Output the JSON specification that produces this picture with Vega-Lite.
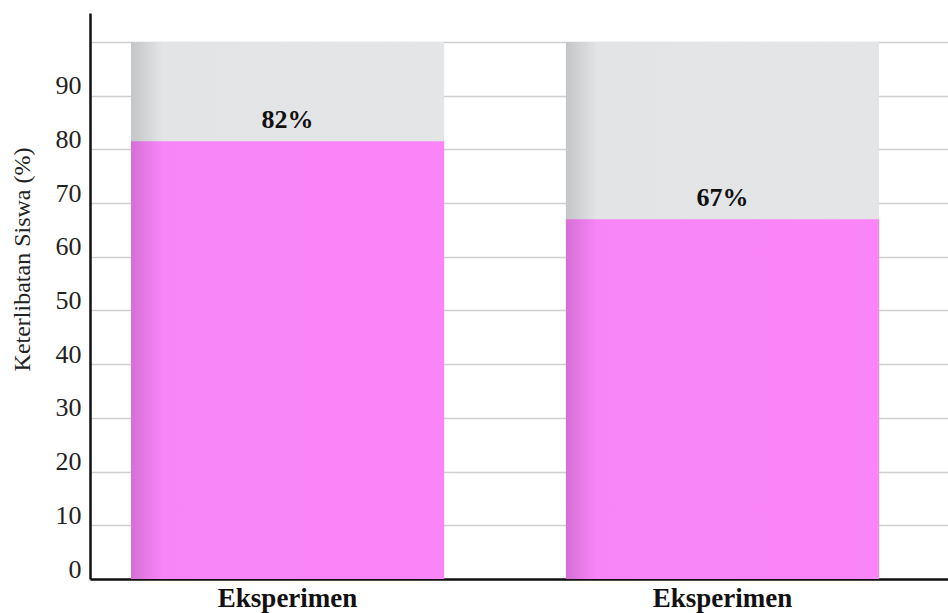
{
  "$schema": "https://vega.github.io/schema/vega-lite/v6.json",
  "autosize": {"type": "none"},
  "padding": {"left": 90, "top": 13, "right": 0, "bottom": 34},
  "width": 858,
  "height": 566,
  "background": "white",
  "config": {"view": {"stroke": null}},
  "data": {
    "values": [
      {"kelompok": "Eksperimen A", "nilai": 81.5, "maks": 100, "teks": "82%"},
      {"kelompok": "Eksperimen B", "nilai": 67, "maks": 100, "teks": "67%"}
    ]
  },
  "encoding": {
    "x": {
      "field": "kelompok",
      "type": "nominal",
      "sort": null,
      "scale": {"paddingInner": 0.28, "paddingOuter": 0.1264, "align": 0.373},
      "axis": {
        "title": null,
        "labelExpr": "'Eksperimen'",
        "labelAngle": 0,
        "labelFont": "Liberation Serif",
        "labelFontSize": 27,
        "labelFontWeight": "bold",
        "labelColor": "#111",
        "labelPadding": 6,
        "ticks": false,
        "domainColor": "#111",
        "domainWidth": 2.5,
        "grid": false
      }
    }
  },
  "layer": [
    {
      "mark": {
        "type": "bar",
        "color": {
          "gradient": "linear",
          "x1": 0, "y1": 0, "x2": 1, "y2": 0,
          "stops": [
            {"offset": 0, "color": "#c4c5c7"},
            {"offset": 0.1, "color": "#e3e4e6"},
            {"offset": 1, "color": "#e4e5e7"}
          ]
        }
      },
      "encoding": {
        "y": {
          "field": "maks",
          "type": "quantitative",
          "scale": {"domain": [0, 105.4], "nice": false, "zero": true},
          "axis": {
            "title": "Keterlibatan Siswa (%)",
            "titleFont": "Liberation Serif",
            "titleFontSize": 24,
            "titleFontWeight": "normal",
            "titleColor": "#222",
            "titleX": -56,
            "titleY": 246,
            "values": [0, 10, 20, 30, 40, 50, 60, 70, 80, 90, 100],
            "labelExpr": "datum.value >= 100 ? '' : datum.label",
            "labelFont": "Liberation Serif",
            "labelFontSize": 26,
            "labelColor": "#222",
            "labelPadding": 9,
            "labelBaseline": "alphabetic",
            "labelOffset": -2,
            "ticks": false,
            "domainColor": "#111",
            "domainWidth": 2.5,
            "grid": true,
            "gridColor": "#cfcfcf",
            "gridWidth": 1.5
          }
        }
      }
    },
    {
      "mark": {
        "type": "bar",
        "color": {
          "gradient": "linear",
          "x1": 0, "y1": 0, "x2": 1, "y2": 0,
          "stops": [
            {"offset": 0, "color": "#d56fd5"},
            {"offset": 0.1, "color": "#f885f8"},
            {"offset": 1, "color": "#f985f9"}
          ]
        }
      },
      "encoding": {
        "y": {"field": "nilai", "type": "quantitative"}
      }
    },
    {
      "mark": {
        "type": "text",
        "font": "Liberation Serif",
        "fontSize": 26,
        "fontWeight": "bold",
        "color": "#111",
        "baseline": "alphabetic",
        "dy": -13
      },
      "encoding": {
        "y": {"field": "nilai", "type": "quantitative"},
        "text": {"field": "teks"}
      }
    }
  ]
}
